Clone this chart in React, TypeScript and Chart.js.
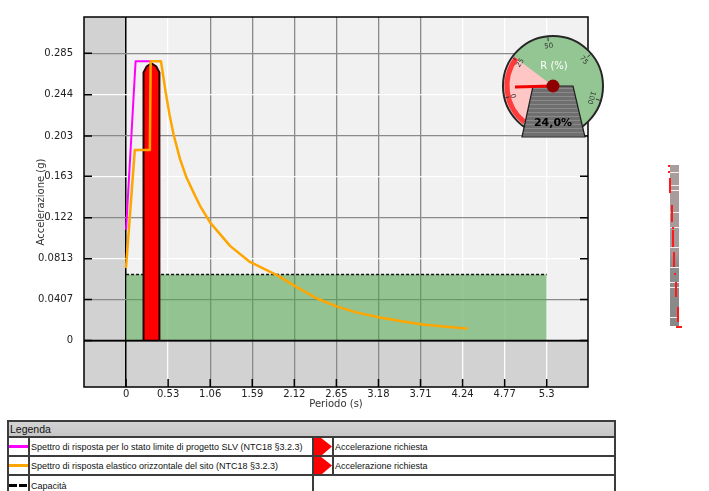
import React, { useEffect, useRef } from "react";
import { Chart, registerables } from "chart.js";

Chart.register(...registerables);
Chart.defaults.font.family = "'DejaVu Sans', sans-serif";

// ---- Axis ticks ----
const xTickValues = [0, 0.53, 1.06, 1.59, 2.12, 2.65, 3.18, 3.71, 4.24, 4.77, 5.3];
const xTickLabels = ["0", "0.53", "1.06", "1.59", "2.12", "2.65", "3.18", "3.71", "4.24", "4.77", "5.3"];
const yTickValues = [0, 0.0407, 0.0813, 0.122, 0.163, 0.203, 0.244, 0.285];
const yTickLabels = ["0", "0.0407", "0.0813", "0.122", "0.163", "0.203", "0.244", "0.285"];

// ---- Series (period T [s], acceleration Sa [g]) ----
const magentaT = [0, 0.12, 0.32];
const magentaSa = [0.11, 0.277, 0.277];

const orangeT = [0, 0.11, 0.3, 0.31, 0.44, 0.5, 0.55, 0.6, 0.68, 0.76, 0.85, 0.93, 1.06, 1.31, 1.56, 1.9, 2.15, 2.4, 2.65, 2.9, 3.2, 3.49, 3.74, 4.0, 4.29];
const orangeSa = [0.073, 0.189, 0.189, 0.277, 0.277, 0.246, 0.223, 0.204, 0.18, 0.162, 0.147, 0.134, 0.117, 0.094, 0.078, 0.065, 0.053, 0.042, 0.034, 0.028, 0.023, 0.019, 0.016, 0.014, 0.012];

const requiredT = [0.22, 0.22, 0.26, 0.32, 0.38, 0.42, 0.42];
const requiredSa = [0, 0.266, 0.272, 0.275, 0.272, 0.266, 0];

const capacityT = [0, 5.3];
const capacitySa = [0.0656, 0.0656];

const gaugeValue = 24.0;
const gaugeLabels = ["0", "25", "50", "75", "100"];

const legendLeft = [
  "Spettro di risposta per lo stato limite di progetto SLV (NTC18 §3.2.3)",
  "Spettro di risposta elastico orizzontale del sito (NTC18 §3.2.3)",
  "Capacità",
];
const legendRight = ["Accelerazione richiesta", "Accelerazione richiesta"];

// ---- styling helpers (not data) ----
const xDarkGrid = [1.06, 1.59, 2.12, 2.65, 3.18, 3.71];
const yDarkGrid = [0.0407, 0.122, 0.203, 0.285];
const gaugeLabelAngles = [166, 215, 264, 320, 377];
const stripWhite = [172, 185, 190, 212, 227, 247, 267, 282, 287, 317];
const stripRed: number[][] = [
  [668, 165, 2, 2], [668, 171, 2, 2], [669, 178, 2, 15], [671, 205, 2, 17], [672, 227, 2, 2],
  [672, 230, 2, 17], [673, 252, 2, 15], [674, 273, 2, 2], [675, 282, 2, 15], [677, 307, 2, 15], [676, 326, 6, 2],
];

const pts = (xs: number[], ys: number[]) => xs.map((x, i) => ({ x, y: ys[i] }));

const near = (a: number, list: number[]) => list.some((v) => Math.abs(v - a) < 1e-6);

function drawGauge(ctx: CanvasRenderingContext2D, cx: number, cy: number, r: number, value: number) {
  const d = (deg: number) => (deg * Math.PI) / 180;
  ctx.save();
  ctx.beginPath();
  ctx.arc(cx, cy, r, 0, Math.PI * 2);
  ctx.fillStyle = "#94c693";
  ctx.fill();
  // pink zone
  ctx.beginPath();
  ctx.moveTo(cx, cy);
  ctx.arc(cx, cy, r, d(128), d(217));
  ctx.closePath();
  ctx.fillStyle = "#ffc6c6";
  ctx.fill();
  ctx.beginPath();
  ctx.arc(cx, cy, r - 4, d(128), d(217));
  ctx.strokeStyle = "#ff3b3b";
  ctx.lineWidth = 5;
  ctx.stroke();
  // border
  ctx.beginPath();
  ctx.arc(cx, cy, r, 0, Math.PI * 2);
  ctx.strokeStyle = "#262626";
  ctx.lineWidth = 2;
  ctx.stroke();
  // ticks + labels
  ctx.fillStyle = "#333";
  ctx.strokeStyle = "#333";
  ctx.lineWidth = 1;
  ctx.font = "7px 'DejaVu Sans', sans-serif";
  ctx.textAlign = "center";
  ctx.textBaseline = "middle";
  gaugeLabelAngles.forEach((a, i) => {
    const rad = d(a);
    ctx.beginPath();
    ctx.moveTo(cx + Math.cos(rad) * (r - 1), cy + Math.sin(rad) * (r - 1));
    ctx.lineTo(cx + Math.cos(rad) * (r - 5), cy + Math.sin(rad) * (r - 5));
    ctx.stroke();
    ctx.save();
    ctx.translate(cx + Math.cos(rad) * 40, cy + Math.sin(rad) * 40);
    ctx.rotate(rad + Math.PI / 2);
    ctx.fillText(gaugeLabels[i], 0, 0);
    ctx.restore();
  });
  // label
  ctx.fillStyle = "#ffffff";
  ctx.font = "10px 'DejaVu Sans', sans-serif";
  ctx.fillText("R (%)", cx + 1, cy - 20);
  // trapezoid
  ctx.beginPath();
  ctx.moveTo(cx - 20, cy);
  ctx.lineTo(cx + 20, cy);
  ctx.lineTo(cx + 32, cy + 51);
  ctx.lineTo(cx - 31, cy + 51);
  ctx.closePath();
  ctx.fillStyle = "#6f6f6f";
  ctx.fill();
  ctx.save();
  ctx.clip();
  ctx.fillStyle = "#8a8a8a";
  for (let y = cy + 2; y < cy + 52; y += 4) ctx.fillRect(cx - 35, y, 70, 1);
  ctx.restore();
  ctx.strokeStyle = "#1e1e1e";
  ctx.lineWidth = 1.2;
  ctx.stroke();
  ctx.fillStyle = "#000";
  ctx.font = "bold 11px 'DejaVu Sans', sans-serif";
  ctx.fillText(value.toFixed(1).replace(".", ",") + "%", cx, cy + 37);
  // needle
  ctx.beginPath();
  ctx.moveTo(cx, cy);
  ctx.lineTo(cx - 38, cy + 1);
  ctx.strokeStyle = "#f00000";
  ctx.lineWidth = 3;
  ctx.stroke();
  ctx.beginPath();
  ctx.arc(cx, cy, 6.5, 0, Math.PI * 2);
  ctx.fillStyle = "#8e0000";
  ctx.fill();
  ctx.restore();
}

const framePlugin = {
  id: "framePlugin",
  beforeDraw(chart: any) {
    const { ctx, chartArea: a, scales } = chart;
    const x0 = scales.x.getPixelForValue(0);
    const y0 = scales.y.getPixelForValue(0);
    ctx.save();
    ctx.fillStyle = "#d2d2d2";
    ctx.fillRect(a.left, a.top, a.right - a.left, a.bottom - a.top);
    ctx.fillStyle = "#f1f1f1";
    ctx.fillRect(x0, a.top, a.right - x0, y0 - a.top);
    ctx.restore();
  },
  afterDatasetsDraw(chart: any) {
    const { ctx, chartArea: a, scales } = chart;
    const y0 = scales.y.getPixelForValue(0);
    ctx.save();
    ctx.strokeStyle = "#000";
    ctx.lineWidth = 1.5;
    ctx.beginPath();
    ctx.moveTo(a.left, y0);
    ctx.lineTo(a.right, y0);
    ctx.stroke();
    ctx.restore();
  },
  afterDraw(chart: any) {
    const { ctx, chartArea: a, scales } = chart;
    ctx.save();
    ctx.strokeStyle = "#000";
    ctx.lineWidth = 1.5;
    ctx.beginPath();
    scales.y.ticks.forEach((t: any) => {
      const py = scales.y.getPixelForValue(t.value);
      ctx.moveTo(a.left, py);
      ctx.lineTo(a.left + 8, py);
      ctx.moveTo(a.right - 8, py);
      ctx.lineTo(a.right, py);
    });
    scales.x.ticks.forEach((t: any) => {
      const px = scales.x.getPixelForValue(t.value);
      ctx.moveTo(px, a.bottom);
      ctx.lineTo(px, a.bottom - 8);
    });
    ctx.stroke();
    ctx.lineWidth = 1.5;
    ctx.strokeRect(a.left, a.top, a.right - a.left, a.bottom - a.top);
    ctx.restore();
    drawGauge(ctx, a.right - 35, a.top + 69, 50, gaugeValue);
  },
};

export default function App() {
  const canvasRef = useRef<HTMLCanvasElement>(null);

  useEffect(() => {
    const canvas = canvasRef.current;
    if (!canvas) return;
    const gridColor = (list: number[]) => (c: any) => {
      const v = c.tick ? c.tick.value : NaN;
      if (Math.abs(v) < 1e-9) return "#000";
      return near(v, list) ? "#8a8a8a" : "rgba(255,255,255,0.95)";
    };
    const gridWidth = (c: any) => {
      const v = c.tick ? c.tick.value : NaN;
      return Math.abs(v) < 1e-9 ? 1.5 : 1.3;
    };
    const chart = new Chart(canvas, {
      type: "line",
      data: {
        datasets: [
          {
            label: "Spettro elastico",
            data: pts(orangeT, orangeSa),
            borderColor: "#ffa500",
            borderWidth: 2.5,
            pointRadius: 0,
            fill: false,
            order: 0,
            borderJoinStyle: "round",
            borderCapStyle: "round",
          },
          {
            label: "Spettro di progetto",
            data: pts(magentaT, magentaSa),
            borderColor: "#ff00ff",
            borderWidth: 2,
            pointRadius: 0,
            fill: false,
            order: 1,
            borderJoinStyle: "round",
          },
          {
            label: "Accelerazione richiesta",
            data: pts(requiredT, requiredSa),
            borderColor: "#2a0000",
            backgroundColor: "#ff0000",
            borderWidth: 2,
            pointRadius: 0,
            fill: "origin",
            order: 2,
          },
          {
            label: "Capacità",
            data: pts(capacityT, capacitySa),
            borderColor: "#111",
            borderDash: [3, 2],
            borderWidth: 1.5,
            backgroundColor: "rgba(81,164,78,0.59)",
            pointRadius: 0,
            fill: "origin",
            order: 3,
          },
        ],
      } as any,
      options: {
        responsive: false,
        animation: false,
        devicePixelRatio: 1,
        layout: { padding: { left: 0, top: 12, right: 121, bottom: 0 } },
        plugins: { legend: { display: false }, tooltip: { enabled: false } },
        scales: {
          x: {
            type: "linear",
            min: -0.53,
            max: 5.82,
            afterBuildTicks: (s: any) => {
              s.ticks = xTickValues.map((v) => ({ value: v }));
            },
            afterFit: (s: any) => {
              s.height = 31;
            },
            ticks: {
              autoSkip: false,
              maxRotation: 0,
              padding: 1,
              color: "#222",
              font: { size: 10 },
              callback: (_v: any, i: number) => xTickLabels[i],
            },
            grid: { drawTicks: false, color: gridColor(xDarkGrid), lineWidth: gridWidth },
            border: { display: false },
            title: { display: true, text: "Periodo (s)", color: "#333", font: { size: 10 }, padding: { top: 0, bottom: 8 } },
          },
          y: {
            type: "linear",
            min: -0.046,
            max: 0.321,
            afterBuildTicks: (s: any) => {
              s.ticks = yTickValues.map((v) => ({ value: v }));
            },
            afterFit: (s: any) => {
              s.width = 84;
            },
            ticks: {
              autoSkip: false,
              padding: 11,
              color: "#222",
              font: { size: 10 },
              callback: (_v: any, i: number) => yTickLabels[i],
            },
            grid: { drawTicks: false, color: gridColor(yDarkGrid), lineWidth: gridWidth },
            border: { display: false },
            title: { display: true, text: "Accelerazione (g)", color: "#333", font: { size: 10 }, padding: { top: 35, bottom: 0 } },
          },
        },
      } as any,
      plugins: [framePlugin],
    });
    return () => chart.destroy();
  }, []);

  const bd = "2px solid #3c3c3c";
  const rowText: React.CSSProperties = {
    fontFamily: "'Liberation Sans', Arial, sans-serif",
    fontSize: 9,
    color: "#111",
    display: "flex",
    alignItems: "center",
    paddingLeft: 1,
    whiteSpace: "nowrap",
    overflow: "hidden",
    boxSizing: "border-box",
  };
  const marker = (
    <div style={{ width: 18, height: "100%", borderRight: bd, position: "relative", boxSizing: "content-box" }}>
      <div
        style={{
          position: "absolute",
          left: 0,
          top: 0,
          width: 18,
          height: "100%",
          background: "#ff0000",
          clipPath: "polygon(0 0, 40% 0, 100% 50%, 45% 100%, 0 100%)",
        }}
      />
    </div>
  );
  const lineSwatch = (color: string, dashed = false) => (
    <div style={{ width: 19, height: "100%", borderRight: bd, display: "flex", alignItems: "center", boxSizing: "content-box" }}>
      {dashed ? (
        <div style={{ display: "flex", gap: 2, width: "100%" }}>
          <div style={{ width: 8, height: 3, background: "#000" }} />
          <div style={{ width: 8, height: 3, background: "#000" }} />
        </div>
      ) : (
        <div style={{ width: "100%", height: 3, background: color }} />
      )}
    </div>
  );

  return (
    <div style={{ position: "absolute", left: 0, top: 0, width: 709, height: 491, overflow: "hidden", background: "#fff" }}>
      <canvas ref={canvasRef} width={709} height={418} style={{ position: "absolute", left: 0, top: 0, width: 709, height: 418 }} />
      {/* right strip decoration */}
      <div
        style={{
          position: "absolute",
          left: 670,
          top: 165,
          width: 9,
          height: 161,
          background: "linear-gradient(#ab9d9d 0%, #a59999 55%, #8d8d8d 62%, #888 100%)",
        }}
      />
      {stripWhite.map((y, i) => (
        <div key={"w" + i} style={{ position: "absolute", left: 670, top: y, width: 9, height: 1, background: "#f4eeee" }} />
      ))}
      {stripRed.map((r, i) => (
        <div key={"r" + i} style={{ position: "absolute", left: r[0], top: r[1], width: r[2], height: r[3], background: "#ff1a1a" }} />
      ))}
      {/* legend table */}
      <div style={{ position: "absolute", left: 7, top: 420, width: 609, border: bd, boxSizing: "border-box", background: "#fff" }}>
        <div
          style={{
            height: 14,
            borderBottom: bd,
            background: "linear-gradient(#d3d3d3, #c6c6c6)",
            fontFamily: "'Liberation Sans', Arial, sans-serif",
            fontSize: 10.5,
            lineHeight: "14px",
            paddingLeft: 1,
            color: "#111",
          }}
        >
          Legenda
        </div>
        <div style={{ display: "flex", height: 17, borderBottom: bd }}>
          {lineSwatch("#ff00ff")}
          <div style={{ ...rowText, width: 281, borderRight: bd, height: "100%", boxSizing: "content-box" }}>{legendLeft[0]}</div>
          {marker}
          <div style={{ ...rowText, flex: 1, height: "100%" }}>{legendRight[0]}</div>
        </div>
        <div style={{ display: "flex", height: 17, borderBottom: bd }}>
          {lineSwatch("#ffa500")}
          <div style={{ ...rowText, width: 281, borderRight: bd, height: "100%", boxSizing: "content-box" }}>{legendLeft[1]}</div>
          {marker}
          <div style={{ ...rowText, flex: 1, height: "100%" }}>{legendRight[1]}</div>
        </div>
        <div style={{ display: "flex", height: 19 }}>
          {lineSwatch("#000", true)}
          <div style={{ ...rowText, width: 281, borderRight: bd, height: "100%", boxSizing: "content-box" }}>{legendLeft[2]}</div>
          <div style={{ flex: 1 }} />
        </div>
      </div>
    </div>
  );
}
